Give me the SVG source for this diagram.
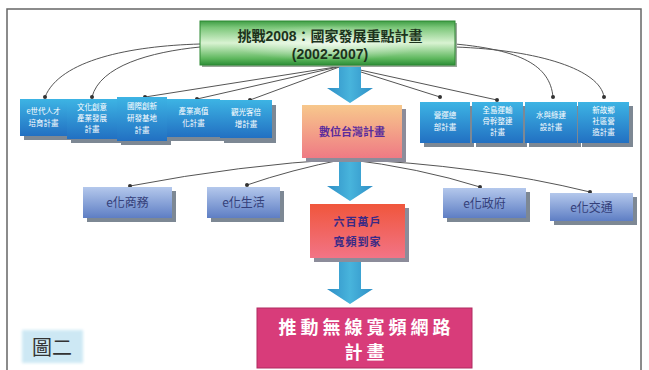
<svg xmlns="http://www.w3.org/2000/svg" width="649" height="370" viewBox="0 0 649 370">
<defs>
<linearGradient id="gGreen" x1="0" y1="0" x2="0" y2="1">
<stop offset="0" stop-color="#3f9e45"/>
<stop offset="0.15" stop-color="#7cc77a"/>
<stop offset="0.5" stop-color="#d9f3d2"/>
<stop offset="0.85" stop-color="#5fb85e"/>
<stop offset="1" stop-color="#2e8f38"/>
</linearGradient>
<radialGradient id="gGlow" cx="0.5" cy="0.5" r="0.5">
<stop offset="0" stop-color="#ffffff" stop-opacity="0.6"/>
<stop offset="1" stop-color="#ffffff" stop-opacity="0"/>
</radialGradient>
<linearGradient id="gBlue" x1="0" y1="0" x2="0" y2="1">
<stop offset="0" stop-color="#3db4e4"/>
<stop offset="1" stop-color="#2270c2"/>
</linearGradient>
<linearGradient id="gLilac" x1="0" y1="0" x2="0" y2="1">
<stop offset="0" stop-color="#b4c8ec"/>
<stop offset="1" stop-color="#5e7ec4"/>
</linearGradient>
<linearGradient id="gOrange" x1="0" y1="0" x2="0" y2="1">
<stop offset="0" stop-color="#f7c88c"/>
<stop offset="1" stop-color="#ef7a84"/>
</linearGradient>
<linearGradient id="gRed" x1="0" y1="0" x2="0" y2="1">
<stop offset="0" stop-color="#f0563c"/>
<stop offset="1" stop-color="#f27486"/>
</linearGradient>
<linearGradient id="gArrow" x1="0" y1="0" x2="1" y2="0">
<stop offset="0" stop-color="#2f8fc6"/>
<stop offset="0.5" stop-color="#48b4dc"/>
<stop offset="1" stop-color="#2f8fc6"/>
</linearGradient>
<marker id="dot" viewBox="0 0 6 6" refX="3" refY="3" markerWidth="4" markerHeight="4" markerUnits="userSpaceOnUse">
<circle cx="3" cy="3" r="3" fill="#333"/>
</marker>
<filter id="soft" x="-20%" y="-20%" width="140%" height="140%"><feGaussianBlur stdDeviation="1.5"/></filter>
</defs>
<style>
.shadow{fill:#7d8894;}
.blue{fill:url(#gBlue);}
.lilac{fill:url(#gLilac);}
.wt{font-family:"Noto Sans CJK TC","Noto Sans CJK SC",sans-serif;font-size:7.5px;fill:#ffffff;text-anchor:middle;}
.et{font-family:"Noto Sans CJK TC","Noto Sans CJK SC",sans-serif;font-size:12px;fill:#34407a;text-anchor:middle;}
.conn{fill:none;stroke:#555;stroke-width:1;marker-end:url(#dot);}
.arrow{fill:url(#gArrow);}
.big{font-family:"Noto Sans CJK TC","Noto Sans CJK SC",sans-serif;font-size:18px;font-weight:bold;fill:#ffffff;text-anchor:middle;letter-spacing:4px;}
</style>
<rect x="0" y="0" width="649" height="370" fill="#ffffff"/>
<rect x="7" y="9" width="634" height="380" fill="none" stroke="#666" stroke-width="1.5"/>

<g id="connectors">
<path class="conn" d="M200,44 C130,46 60,60 45,97"/>
<path class="conn" d="M200,47 C150,52 100,66 92,97"/>
<path class="conn" d="M455,44 C520,50 550,65 553,97"/>
<path class="conn" d="M455,47 C540,50 600,70 604,97"/>
<path class="conn" d="M342,66 L145,97"/>
<path class="conn" d="M342,66 L197,99"/>
<path class="conn" d="M342,66 L250,100"/>
<path class="conn" d="M342,66 L440,97"/>
<path class="conn" d="M342,66 L497,100"/>
<path class="conn" d="M345,159 Q240,165 130,186"/>
<path class="conn" d="M345,159 Q290,170 247,185"/>
<path class="conn" d="M345,159 Q420,168 480,187"/>
<path class="conn" d="M345,159 Q480,165 590,192"/>
</g>

<g id="arrow1"><path class="arrow" d="M339,66 H361 V88 H373 L350,103 L327,88 H339 Z"/></g>
<g id="arrow2"><path class="arrow" d="M339,161 H361 V186 H373 L350,201 L327,186 H339 Z"/></g>
<g id="arrow3"><path class="arrow" d="M339,262 H361 V289 H373 L350,304 L327,289 H339 Z"/></g>

<g id="challenge2008">
<rect x="202" y="23" width="255" height="44" fill="#9aa89a"/>
<rect x="200" y="21" width="255" height="44" fill="url(#gGreen)" stroke="#2e8a35" stroke-width="1"/>
<rect x="230" y="25" width="195" height="36" fill="url(#gGlow)"/>
<text x="330" y="41" font-family="'Liberation Sans','Noto Sans CJK TC',sans-serif" font-size="14" font-weight="bold" fill="#1c331c" text-anchor="middle">挑戰2008：國家發展重點計畫</text>
<text x="330" y="59" font-family="'Liberation Sans','Noto Sans CJK TC',sans-serif" font-size="14" font-weight="bold" fill="#1c331c" text-anchor="middle">(2002-2007)</text>
</g>

<g id="plan1"><rect class="shadow" x="24" y="103" width="47" height="37"/><rect class="blue" x="20" y="99" width="47" height="37"/>
<text class="wt" x="43.5" y="114">e世代人才</text><text class="wt" x="43.5" y="126">培育計畫</text></g>
<g id="plan2"><rect class="shadow" x="71" y="103" width="50" height="40"/><rect class="blue" x="67" y="99" width="50" height="40"/>
<text class="wt" x="92" y="110">文化創意</text><text class="wt" x="92" y="121">產業發展</text><text class="wt" x="92" y="132">計畫</text></g>
<g id="plan3"><rect class="shadow" x="121" y="101" width="50" height="44"/><rect class="blue" x="117" y="97" width="50" height="44"/>
<text class="wt" x="142" y="109">國際創新</text><text class="wt" x="142" y="121">研發基地</text><text class="wt" x="142" y="133">計畫</text></g>
<g id="plan4"><rect class="shadow" x="171" y="103" width="53" height="38"/><rect class="blue" x="167" y="99" width="53" height="38"/>
<text class="wt" x="193.5" y="114">產業高值</text><text class="wt" x="193.5" y="126">化計畫</text></g>
<g id="plan5"><rect class="shadow" x="224" y="105" width="52" height="38"/><rect class="blue" x="220" y="100" width="52" height="38"/>
<text class="wt" x="246" y="115">觀光客倍</text><text class="wt" x="246" y="127">增計畫</text></g>

<g id="plan7"><rect class="shadow" x="424" y="106" width="50" height="41"/><rect class="blue" x="420" y="102" width="50" height="41"/>
<text class="wt" x="445" y="118">營運總</text><text class="wt" x="445" y="130">部計畫</text></g>
<g id="plan8"><rect class="shadow" x="476" y="106" width="51" height="41"/><rect class="blue" x="472" y="102" width="51" height="41"/>
<text class="wt" x="497.5" y="113">全島運輸</text><text class="wt" x="497.5" y="124">骨幹整建</text><text class="wt" x="497.5" y="135">計畫</text></g>
<g id="plan9"><rect class="shadow" x="529" y="106" width="52" height="41"/><rect class="blue" x="525" y="102" width="52" height="41"/>
<text class="wt" x="551" y="118">水與綠建</text><text class="wt" x="551" y="130">設計畫</text></g>
<g id="plan10"><rect class="shadow" x="582" y="106" width="51" height="41"/><rect class="blue" x="578" y="102" width="51" height="41"/>
<text class="wt" x="603.5" y="113">新故鄉</text><text class="wt" x="603.5" y="124">社區營</text><text class="wt" x="603.5" y="135">造計畫</text></g>

<g id="digitalTaiwan">
<rect x="306" y="109" width="100" height="53" fill="#8c8c9a"/>
<rect x="302" y="105" width="100" height="53" fill="url(#gOrange)"/>
<text x="352" y="136" font-family="'Noto Sans CJK TC','Noto Sans CJK SC',sans-serif" font-size="11" font-weight="bold" fill="#5a2c9c" text-anchor="middle">數位台灣計畫</text>
</g>

<g id="eCommerce"><rect class="shadow" x="87" y="191" width="89" height="31"/><rect class="lilac" x="83" y="187" width="89" height="31"/>
<text class="et" x="127.5" y="207">e化商務</text></g>
<g id="eLife"><rect class="shadow" x="211" y="191" width="73" height="31"/><rect class="lilac" x="207" y="187" width="73" height="31"/>
<text class="et" x="243.5" y="207">e化生活</text></g>
<g id="eGov"><rect class="shadow" x="447" y="192" width="83" height="30"/><rect class="lilac" x="443" y="188" width="83" height="30"/>
<text class="et" x="484.5" y="207.5">e化政府</text></g>
<g id="eTraffic"><rect class="shadow" x="554" y="197" width="83" height="28"/><rect class="lilac" x="550" y="193" width="83" height="28"/>
<text class="et" x="591.5" y="211.5">e化交通</text></g>

<g id="broadband">
<rect x="314" y="208" width="95" height="54" fill="#8c8c9a"/>
<rect x="310" y="204" width="95" height="54" fill="url(#gRed)"/>
<text x="357.5" y="226" font-family="'Noto Sans CJK TC','Noto Sans CJK SC',sans-serif" font-size="11" font-weight="bold" fill="#3a2a86" text-anchor="middle" letter-spacing="1">六百萬戶</text>
<text x="357.5" y="246" font-family="'Noto Sans CJK TC','Noto Sans CJK SC',sans-serif" font-size="11" font-weight="bold" fill="#3a2a86" text-anchor="middle" letter-spacing="1">寬頻到家</text>
</g>

<g id="wireless">
<rect x="257" y="308" width="215" height="60" fill="#d83c7a" stroke="#b02a60" stroke-width="1"/>
<text class="big" x="366.5" y="334">推動無線寬頻網路</text>
<text class="big" x="366.5" y="359">計畫</text>
</g>

<g id="figLabel">
<rect x="22" y="330" width="61" height="33" fill="#cde8f4" filter="url(#soft)"/>
<text x="52" y="355" font-family="'Noto Sans CJK TC','Noto Sans CJK SC',sans-serif" font-size="20" fill="#333" text-anchor="middle">圖二</text>
</g>
</svg>
